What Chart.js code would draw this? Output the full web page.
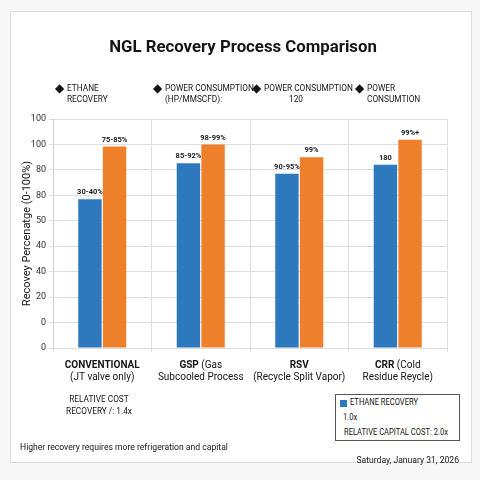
<!DOCTYPE html>
<html>
<head>
<meta charset="utf-8">
<script src="https://cdn.jsdelivr.net/npm/chart.js@4"></script>
<style>
  html, body { margin: 0; padding: 0; background: #f7f7f7; }
  #wrap { position: relative; width: 480px; height: 480px; font-family: Roboto, "Noto Sans", sans-serif; color: #151515; }
  #card { position: absolute; left: 10px; top: 11px; width: 460px; height: 450px; background: #fff; border: 1px solid #dcdcdc; }
  #chartBox { position: absolute; left: 0; top: 0; width: 480px; height: 480px; }
  .t { position: absolute; white-space: nowrap; }
  #title { left: 10px; width: 466px; top: 36px; text-align: center; font-weight: bold; font-size: 16.8px; }
  .leg { position: absolute; top: 83px; font-size: 8.3px; line-height: 11px; white-space: nowrap; }
  .leg .d { position: absolute; left: -2px; top: -2px; font-size: 12px; line-height: 14px; }
  .leg .tx { position: absolute; left: 10px; top: 0; }
  #note1 { left: 51px; width: 96px; top: 393px; text-align: center; font-size: 8.3px; line-height: 12px; }
  #foot { left: 20px; top: 442px; font-size: 8.6px; }
  #date { right: 21px; top: 455px; font-size: 8.6px; }
  #box { position: absolute; left: 335px; top: 394px; width: 123px; height: 45px; border: 1px solid #555; background: #fff; font-size: 8.8px; }
  #box .sq { position: absolute; left: 4px; top: 5px; width: 7px; height: 7px; background: #2e78bd; }
  #box .t { transform: scaleX(0.86); transform-origin: 0 50%; }
  #box .l1 { position: absolute; left: 14px; top: 2px; }
  #box .l2 { position: absolute; left: 7px; top: 17px; }
  #box .l3 { position: absolute; left: 8px; top: 32px; }
</style>
</head>
<body>
<div id="wrap">
  <div id="card"></div>
  <div id="chartBox"><canvas id="c" width="480" height="480"></canvas></div>
  <div class="t" id="title">NGL Recovery Process Comparison</div>
  <div class="leg" style="left:57px"><span class="d">◆</span><span class="tx">ETHANE<br>RECOVERY</span></div>
  <div class="leg" style="left:155px"><span class="d">◆</span><span class="tx">POWER CONSUMPTION<br>(HP/MMSCFD):</span></div>
  <div class="leg" style="left:254px"><span class="d">◆</span><span class="tx">POWER CONSUMPTION<br><span style="padding-left:25px">120</span></span></div>
  <div class="leg" style="left:357px"><span class="d">◆</span><span class="tx">POWER<br>CONSUMTION</span></div>
  <div class="t" id="note1">RELATIVE COST<br>RECOVERY /: 1.4x</div>
  <div class="t" id="foot">Higher recovery requires more refrigeration and capital</div>
  <div class="t" id="date">Saturday, January 31, 2026</div>
  <div id="box"><div class="sq"></div><div class="t l1">ETHANE RECOVERY</div><div class="t l2">1.0x</div><div class="t l3">RELATIVE CAPITAL COST: 2.0x</div></div>
</div>
<script>
// ---- data ----
const categories = ['CONVENTIONAL', 'GSP', 'RSV', 'CRR'];
const categoryLine1Rest = ['', ' (Gas', '', ' (Cold'];
const categoryLine2 = ['(JT valve only)', 'Subcooled Process', '(Recycle Split Vapor)', 'Residue Reycle)'];
const seriesBlue = [58.5, 72.6, 68.5, 72];
const seriesOrange = [79.2, 80, 75, 81.8];
const blueLabels = ['30-40%', '85-92%', '90-95%', '180'];
const orangeLabels = ['75-85%', '98-99%', '99%', '99%+'];
const yTickLabels = ['0', '0', '20', '40', '40', '50', '80', '80', '100', '100'];
const yTitle = 'Recovey Percenatge (0-100%)';

const FONT = 'Roboto, "Noto Sans", sans-serif';

const barLabelPlugin = {
  id: 'barLabels',
  afterDatasetsDraw(chart) {
    const ctx = chart.ctx;
    const sets = [blueLabels, orangeLabels];
    ctx.save();
    ctx.font = 'bold 7.5px ' + FONT;
    ctx.fillStyle = '#222';
    ctx.textAlign = 'center';
    ctx.textBaseline = 'bottom';
    chart.data.datasets.forEach((ds, di) => {
      const meta = chart.getDatasetMeta(di);
      meta.data.forEach((bar, i) => {
        ctx.fillText(sets[di][i], bar.x, bar.y - 3);
      });
    });
    ctx.restore();
  }
};

const xLabelPlugin = {
  id: 'xLabels',
  afterDraw(chart) {
    const ctx = chart.ctx;
    const xs = chart.scales.x;
    const base = chart.chartArea.bottom;
    ctx.save();
    ctx.fillStyle = '#151515';
    ctx.textBaseline = 'middle';
    categories.forEach((name, i) => {
      const cx = xs.getPixelForValue(i);
      ctx.font = 'bold 10px ' + FONT;
      const w1 = ctx.measureText(name).width;
      ctx.font = '10px ' + FONT;
      const w2 = ctx.measureText(categoryLine1Rest[i]).width;
      let x0 = cx - (w1 + w2) / 2;
      ctx.textAlign = 'left';
      ctx.font = 'bold 10px ' + FONT;
      ctx.fillText(name, x0, base + 17);
      ctx.font = '10px ' + FONT;
      ctx.fillText(categoryLine1Rest[i], x0 + w1, base + 17);
      ctx.textAlign = 'center';
      ctx.fillText(categoryLine2[i], cx, base + 29);
    });
    ctx.restore();
  }
};

new Chart(document.getElementById('c'), {
  type: 'bar',
  data: {
    labels: categories,
    datasets: [
      { label: 'Ethane Recovery', data: seriesBlue, backgroundColor: '#2e78bd', barPercentage: 0.95, categoryPercentage: 0.5 },
      { label: 'Power', data: seriesOrange, backgroundColor: '#ee7f2b', barPercentage: 0.95, categoryPercentage: 0.5 }
    ]
  },
  options: {
    responsive: false,
    animation: false,
    devicePixelRatio: 1,
    layout: { padding: { left: 17, right: 33, top: 119, bottom: 0 } },
    plugins: { legend: { display: false }, tooltip: { enabled: false }, title: { display: false } },
    scales: {
      x: {
        grid: { color: '#dedede', tickLength: 4, offset: true },
        border: { color: '#dedede' },
        ticks: { display: false },
        afterFit(s) { s.height = 132; }
      },
      y: {
        min: 0, max: 90,
        grid: { color: '#dedede', tickLength: 4 },
        border: { color: '#cfcfcf' },
        ticks: {
          stepSize: 10,
          font: { family: FONT, size: 9 },
          color: '#333',
          padding: 3,
          callback: (v, i) => yTickLabels[i]
        },
        title: { display: true, text: yTitle, font: { family: FONT, size: 11 }, color: '#151515' },
        afterFit(s) { s.width = 36; }
      }
    }
  },
  plugins: [barLabelPlugin, xLabelPlugin]
});
</script>
</body>
</html>
